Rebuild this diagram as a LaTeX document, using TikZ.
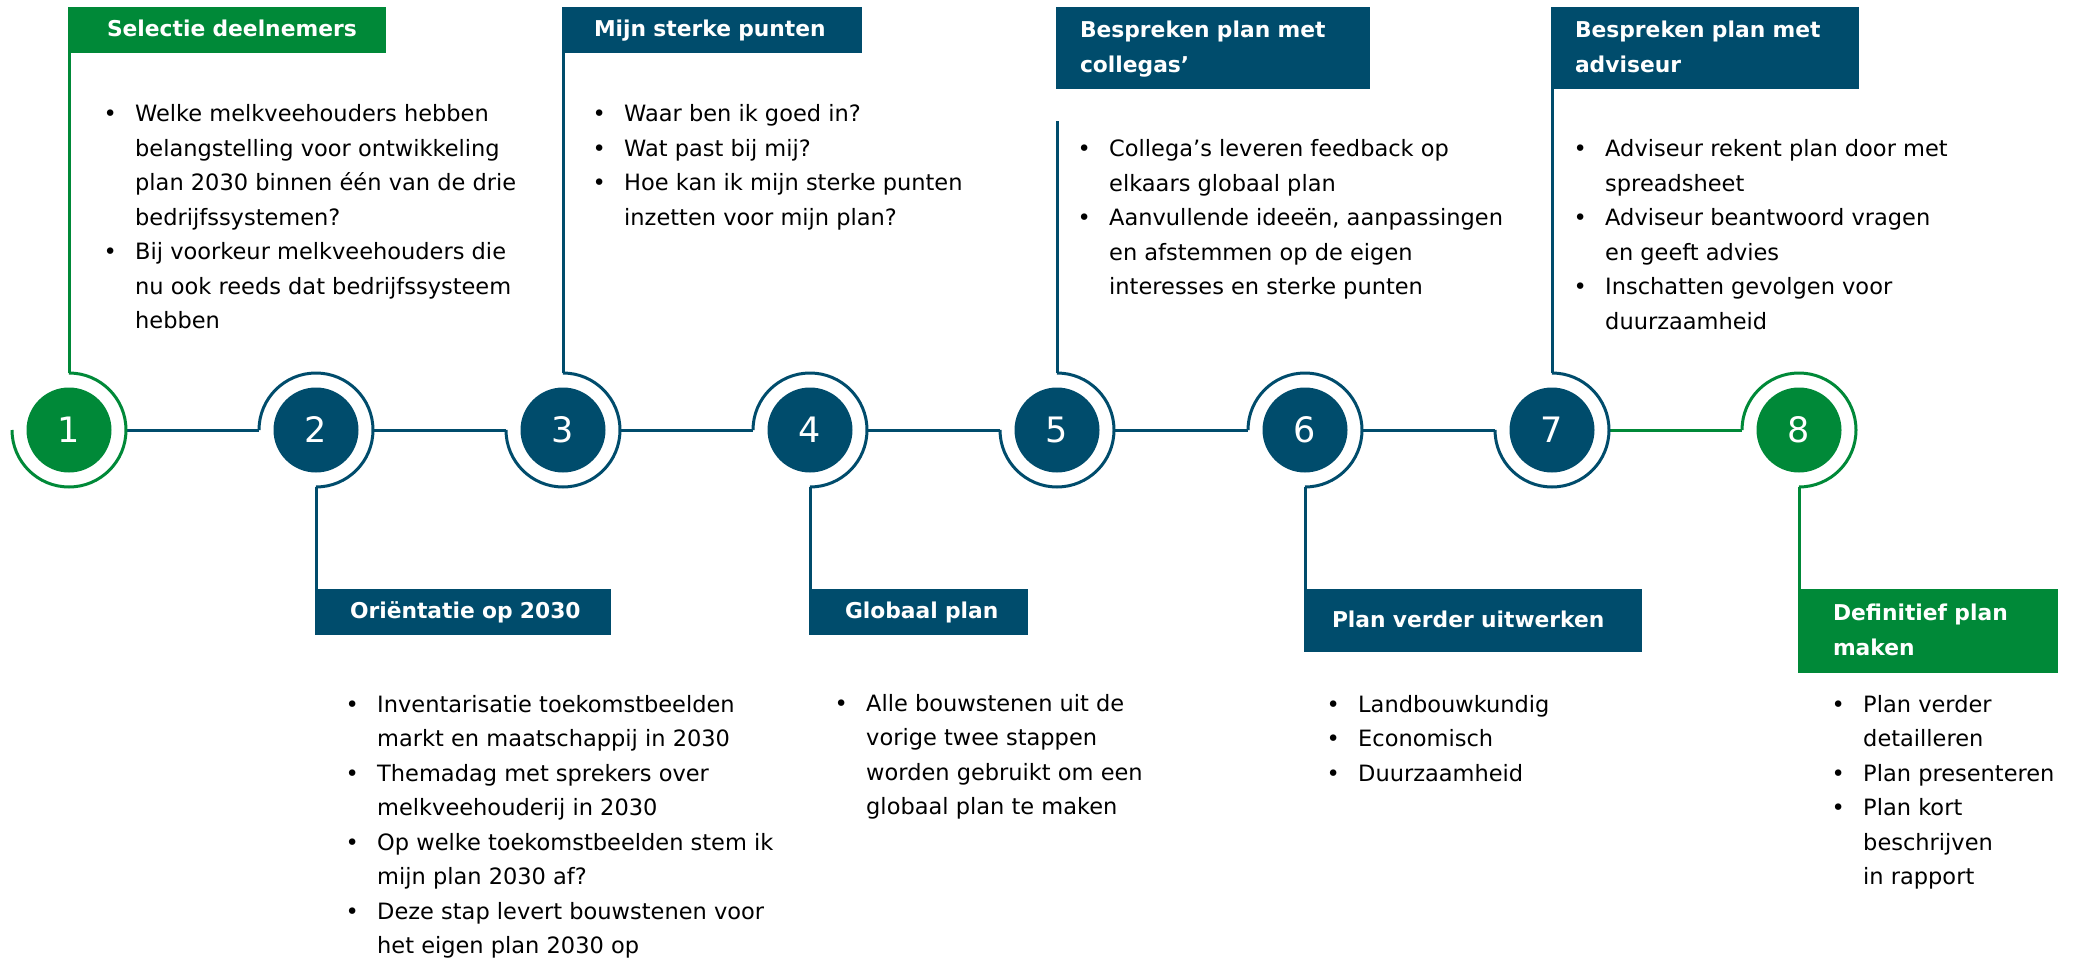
\documentclass[tikz,border=0pt]{standalone}
\usepackage{fontspec}
\setmainfont{DejaVu Sans}
\usepackage{array}
\definecolor{vgreen}{RGB}{0,137,56}
\definecolor{vblue}{RGB}{0,76,108}
\tikzset{
  num/.style={circle, fill=#1, minimum size=85pt, inner sep=0pt, outer sep=0pt, text=white, font=\fontsize{35}{35}\selectfont},
  ringpt/.style={circle, minimum size=114pt, inner sep=0pt, outer sep=0pt},
  ring/.style={draw=#1, line width=3pt},
  conn/.style={draw=#1, line width=3pt},
  hdr/.style={fill=#1, text=white, anchor=north west, align=left, inner sep=0pt, outer sep=0pt, font=\fontsize{21.8}{34.5}\selectfont\bfseries},
  body/.style={anchor=base west, inner sep=0pt, font=\fontsize{22.5}{34.5}\selectfont}
}
\newcommand\bu{\makebox[50pt][c]{\textbullet}}
\newcommand\htext[2]{\hspace*{#1pt}\begin{tabular}{@{}l@{}}#2\end{tabular}}
\begin{document}
\begin{tikzpicture}[x=1pt,y=1pt]
\path[use as bounding box] (0,0) rectangle (2074,-960);
% ring anchor nodes
\foreach \i/\x in {1/69,2/316,3/563,4/810,5/1057,6/1305,7/1552,8/1799}{
  \node[ringpt] (r\i) at (\x,-430) {};
}
\coordinate (t5) at (1057,-121);
% connectors
\draw[conn=vblue] (r1.east) -- (r2.west);
\draw[conn=vblue] (r2.east) -- (r3.west);
\draw[conn=vblue] (r3.east) -- (r4.west);
\draw[conn=vblue] (r4.east) -- (r5.west);
\draw[conn=vblue] (r5.east) -- (r6.west);
\draw[conn=vblue] (r6.east) -- (r7.west);
\draw[conn=vgreen] (r7.east) -- (r8.west);
% rings
\draw[ring=vgreen] (r1.north) arc[start angle=90, end angle=-180, radius=57];
\draw[ring=vblue] (r2.west) arc[start angle=180, end angle=-90, radius=57];
\draw[ring=vblue] (r3.north) arc[start angle=90, end angle=-180, radius=57];
\draw[ring=vblue] (r4.west) arc[start angle=180, end angle=-90, radius=57];
\draw[ring=vblue] (r5.north) arc[start angle=90, end angle=-180, radius=57];
\draw[ring=vblue] (r6.west) arc[start angle=180, end angle=-90, radius=57];
\draw[ring=vblue] (r7.north) arc[start angle=90, end angle=-180, radius=57];
\draw[ring=vgreen] (r8.west) arc[start angle=180, end angle=-90, radius=57];
% number circles
\node[num=vgreen] (c1) at (r1) {1};
\node[num=vblue] (c2) at (r2) {2};
\node[num=vblue] (c3) at (r3) {3};
\node[num=vblue] (c4) at (r4) {4};
\node[num=vblue] (c5) at (r5) {5};
\node[num=vblue] (c6) at (r6) {6};
\node[num=vblue] (c7) at (r7) {7};
\node[num=vgreen] (c8) at (r8) {8};
% vertical connectors
\draw[conn=vgreen] (r1.north) -- (69,-30);
\draw[conn=vblue] (r2.south) -- (316,-610);
\draw[conn=vblue] (r3.north) -- (563,-30);
\draw[conn=vblue] (r4.south) -- (810,-610);
\draw[conn=vblue] (r5.north) -- (t5);
\draw[conn=vblue] (r6.south) -- (1305,-610);
\draw[conn=vblue] (r7.north) -- (1552,-50);
\draw[conn=vgreen] (r8.south) -- (1799,-610);
% headers
\node[hdr=vgreen, minimum height=46pt, text width=318pt] (h1) at (68,-7) {\htext{39}{Selectie deelnemers}};
\node[hdr=vblue, minimum height=46pt, text width=296pt] (h2) at (315,-589) {\htext{35}{Oriëntatie op 2030}};
\node[hdr=vblue, minimum height=46pt, text width=300pt] (h3) at (562,-7) {\htext{32}{Mijn sterke punten}};
\node[hdr=vblue, minimum height=46pt, text width=219pt] (h4) at (809,-589) {\htext{36}{Globaal plan}};
\node[hdr=vblue, minimum height=82pt, text width=314pt] (h5) at (1056,-7) {\htext{24}{Bespreken plan met\\collegas’}};
\node[hdr=vblue, minimum height=63pt, text width=338pt] (h6) at (1304,-589) {\htext{28}{Plan verder uitwerken}};
\node[hdr=vblue, minimum height=82pt, text width=308pt] (h7) at (1551,-7) {\htext{24}{Bespreken plan met\\adviseur}};
\node[hdr=vgreen, minimum height=84pt, text width=260pt] (h8) at (1798,-589) {\htext{35}{Definitief plan\\maken}};
% body texts
\node[body] (b1) at (85,-122) {\begin{tabular}[t]{@{}l@{}l@{}}
\bu & Welke melkveehouders hebben\\
 & belangstelling voor ontwikkeling\\
 & plan 2030 binnen één van de drie\\
 & bedrijfssystemen?\\
\bu & Bij voorkeur melkveehouders die\\
 & nu ook reeds dat bedrijfssysteem\\
 & hebben
\end{tabular}};
\node[body] (b3) at (574,-122) {\begin{tabular}[t]{@{}l@{}l@{}}
\bu & Waar ben ik goed in?\\
\bu & Wat past bij mij?\\
\bu & Hoe kan ik mijn sterke punten\\
 & inzetten voor mijn plan?
\end{tabular}};
\node[body] (b5) at (1059,-157) {\begin{tabular}[t]{@{}l@{}l@{}}
\bu & Collega’s leveren feedback op\\
 & elkaars globaal plan\\
\bu & Aanvullende ideeën, aanpassingen\\
 & en afstemmen op de eigen\\
 & interesses en sterke punten
\end{tabular}};
\node[body] (b7) at (1555,-157) {\begin{tabular}[t]{@{}l@{}l@{}}
\bu & Adviseur rekent plan door met\\
 & spreadsheet\\
\bu & Adviseur beantwoord vragen\\
 & en geeft advies\\
\bu & Inschatten gevolgen voor\\
 & duurzaamheid
\end{tabular}};
\node[body] (b2) at (327,-712) {\begin{tabular}[t]{@{}l@{}l@{}}
\bu & Inventarisatie toekomstbeelden\\
 & markt en maatschappij in 2030\\
\bu & Themadag met sprekers over\\
 & melkveehouderij in 2030\\
\bu & Op welke toekomstbeelden stem ik\\
 & mijn plan 2030 af?\\
\bu & Deze stap levert bouwstenen voor\\
 & het eigen plan 2030 op
\end{tabular}};
\node[body] (b4) at (816,-711) {\begin{tabular}[t]{@{}l@{}l@{}}
\bu & Alle bouwstenen uit de\\
 & vorige twee stappen\\
 & worden gebruikt om een\\
 & globaal plan te maken
\end{tabular}};
\node[body] (b6) at (1308,-712) {\begin{tabular}[t]{@{}l@{}l@{}}
\bu & Landbouwkundig\\
\bu & Economisch\\
\bu & Duurzaamheid
\end{tabular}};
\node[body] (b8) at (1813,-712) {\begin{tabular}[t]{@{}l@{}l@{}}
\bu & Plan verder\\
 & detailleren\\
\bu & Plan presenteren\\
\bu & Plan kort\\
 & beschrijven\\
 & in rapport
\end{tabular}};
\end{tikzpicture}
\end{document}
